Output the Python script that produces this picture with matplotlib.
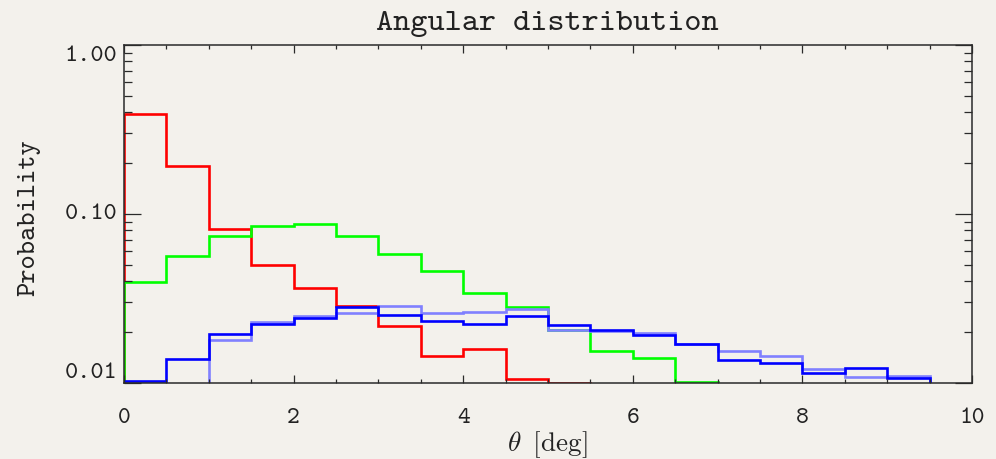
import numpy as np
import matplotlib
matplotlib.use("Agg")
import matplotlib.pyplot as plt
from matplotlib.ticker import FixedLocator, NullFormatter

# Histogram bin edges (deg) and per-bin probabilities
bin_edges = [0.0, 0.5, 1.0, 1.5, 2.0, 2.5, 3.0, 3.5, 4.0, 4.5, 5.0,
             5.5, 6.0, 6.5, 7.0, 7.5, 8.0, 8.5, 9.0, 9.5]

red_prob = [0.391, 0.192, 0.0815, 0.0499, 0.0363, 0.0286, 0.0217, 0.0145,
            0.0159, 0.0105, 0.0100]
green_prob = [0.0397, 0.0562, 0.0741, 0.0849, 0.0869, 0.0744, 0.0582, 0.0460,
              0.0342, 0.0281, 0.0207, 0.0155, 0.0140, 0.0101]
lightblue_prob = [0.0, 0.0, 0.0180, 0.0229, 0.0248, 0.0259, 0.0284, 0.0260,
                  0.0262, 0.0274, 0.0206, 0.0202, 0.0197, 0.0169, 0.0154,
                  0.0144, 0.0121, 0.0108, 0.0110]
blue_prob = [0.0103, 0.0139, 0.0194, 0.0223, 0.0241, 0.0281, 0.0254, 0.0234,
             0.0223, 0.0249, 0.0219, 0.0207, 0.0192, 0.0169, 0.0137, 0.0131,
             0.0115, 0.0122, 0.0107]

series = [
    (red_prob, "#ff0000"),
    (green_prob, "#00ff00"),
    (lightblue_prob, "#8080ff"),
    (blue_prob, "#0000ff"),
]

x_ticks = [0, 2, 4, 6, 8, 10]
x_ticklabels = ["0", "2", "4", "6", "8", "10"]
y_ticks = [0.01, 0.1, 1.0]
y_ticklabels = ["0.01", "0.10", "1.00"]

title = "Angular distribution"
ylabel = "Probability"
xlabel = r"$\theta\;\;\mathrm{[deg]}$"

bg = "#f3f1ec"
axcol = "#2a2a2a"
txtcol = "#222222"
plt.rcParams["mathtext.fontset"] = "cm"

fig = plt.figure(figsize=(9.96, 4.60), dpi=100, facecolor=bg)
ax = fig.add_axes([124 / 996, 1 - 384 / 460, (972 - 124) / 996, (384 - 46) / 460])
ax.set_facecolor(bg)
ax.set_yscale("log")

for vals, col in series:
    edges = bin_edges[: len(vals) + 1]
    ax.stairs(vals, edges, baseline=1e-4, color=col, linewidth=1.9,
              joinstyle="miter")

ax.set_xlim(0, 10)
ax.set_ylim(0.01, 1.0)

for sp in ax.spines.values():
    sp.set_color(axcol)
    sp.set_linewidth(1.1)

ax.xaxis.set_major_locator(FixedLocator(x_ticks))
ax.xaxis.set_minor_locator(FixedLocator(np.arange(0, 10.01, 0.5)))
ax.set_xticklabels(x_ticklabels)
ax.yaxis.set_major_locator(FixedLocator(y_ticks))
ax.yaxis.set_minor_locator(FixedLocator(
    [m * 10.0 ** e for e in (-2, -1) for m in range(2, 10)]))
ax.yaxis.set_minor_formatter(NullFormatter())
ax.set_yticklabels(y_ticklabels)

ax.tick_params(axis="x", which="major", direction="in", length=5.5, width=0.9,
               top=True, bottom=True, color=axcol, pad=17, labelsize=17.5)
ax.tick_params(axis="x", which="minor", direction="in", length=3, width=0.9,
               top=True, bottom=True, color=axcol)
ax.tick_params(axis="y", which="major", direction="in", length=12.5, width=0.9,
               left=True, right=True, color=axcol, pad=5, labelsize=18)
ax.tick_params(axis="y", which="minor", direction="in", length=6, width=0.9,
               left=True, right=True, color=axcol)

for lab in ax.get_xticklabels() + ax.get_yticklabels():
    lab.set_fontfamily("cmtt10")
    lab.set_color(txtcol)

ylabs = ax.get_yticklabels()
ylabs[0].set_verticalalignment("bottom")
ylabs[1].set_verticalalignment("center")
ylabs[2].set_verticalalignment("top")

fig.text(547 / 996, 1 - 30 / 460, title, family="cmtt10", size=23.5,
         ha="center", va="baseline", color=txtcol)
fig.text(29 / 996, 1 - 218 / 460, ylabel, family="cmtt10", size=19.5,
         rotation=90, ha="center", va="center", color=txtcol)
fig.text(547 / 996, 1 - 451 / 460, xlabel, size=19.5,
         ha="center", va="baseline", color=txtcol)

fig.savefig("out.png", dpi=100, facecolor=bg)
